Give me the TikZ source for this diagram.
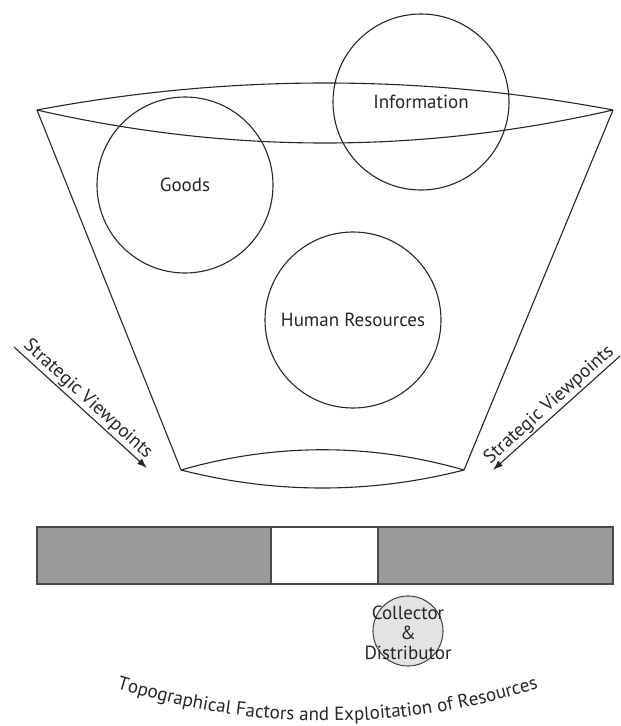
\documentclass[tikz,border=0pt]{standalone}
\usepackage{fontspec}
\setmainfont{PT Sans}
\usetikzlibrary{arrows.meta,decorations.text}
\definecolor{ink}{HTML}{262626}
\definecolor{bargray}{HTML}{9A9A9A}
\definecolor{barline}{HTML}{4A4A4A}
\definecolor{collfill}{HTML}{E3E3E3}
\begin{document}
\begin{tikzpicture}[x=1pt,y=-1pt,
  outline/.style={draw=ink, line width=1.1pt},
  resource/.style={circle, draw=ink, line width=1.1pt, minimum size=176pt, inner sep=0pt,
    font=\fontsize{19}{21}\selectfont, text=ink},
  viewarrow/.style={draw=ink, line width=1.1pt, -{Latex[length=10pt,width=7pt]}},
  arrowlabel/.style={sloped, above, inner sep=1.5pt, font=\fontsize{19}{21}\selectfont, text=ink},
  barpart/.style={rectangle, draw=barline, line width=1.4pt, minimum height=57pt, inner sep=0pt, outer sep=0pt},
]
\useasboundingbox (0,0) rectangle (621,726);

% resource circles
\node[resource] (goods) at (185,185) {Goods};
\node[resource] (info) at (421,102) {Information};
\node[resource] (human) at (353,320) {Human Resources};

% funnel
\coordinate (TL) at (37,110);
\coordinate (TR) at (613,110);
\coordinate (BL) at (181,470);
\coordinate (BR) at (464,470);
\draw[outline] (TL) .. controls (229,74) and (421,74) .. (TR);
\draw[outline] (TL) .. controls (229,154) and (421,154) .. (TR);
\draw[outline] (TL) -- (BL);
\draw[outline] (TR) -- (BR);
\draw[outline] (BL) .. controls (275,443) and (370,443) .. (BR);
\draw[outline] (BL) .. controls (275,494) and (370,494) .. (BR);

% strategic viewpoint arrows
\coordinate (LA1) at (14,347);
\coordinate (LA2) at (147,468);
\coordinate (RA1) at (620,356);
\coordinate (RA2) at (493,470);
\draw[viewarrow] (LA1) -- node[arrowlabel] {Strategic Viewpoints} (LA2);
\draw[viewarrow] (RA1) -- node[arrowlabel] {Strategic Viewpoints} (RA2);

% bar
\node[barpart, fill=bargray, minimum width=234pt] (barleft) at (154,555.5) {};
\node[barpart, fill=white, minimum width=107pt] (bargap) at (324.5,555.5) {};
\node[barpart, fill=bargray, minimum width=235pt] (barright) at (495.5,555.5) {};

% collector
\node[circle, fill=collfill, draw=barline, line width=1.1pt, minimum size=70pt, inner sep=0pt] (collector) at (408,631) {};
\node[align=center, font=\fontsize{19}{20}\selectfont, text=ink, inner sep=0pt] (collectortext) at (408,633) {Collector\\\&\\Distributor};

% curved caption
\path[decorate, decoration={text along path, text align=center,
  text={|\fontsize{19}{21}\selectfont\color{ink}|Topographical Factors and Exploitation of Resources}}]
  (80,676) .. controls (245,736) and (410,736) .. (575,676);
\end{tikzpicture}
\end{document}
